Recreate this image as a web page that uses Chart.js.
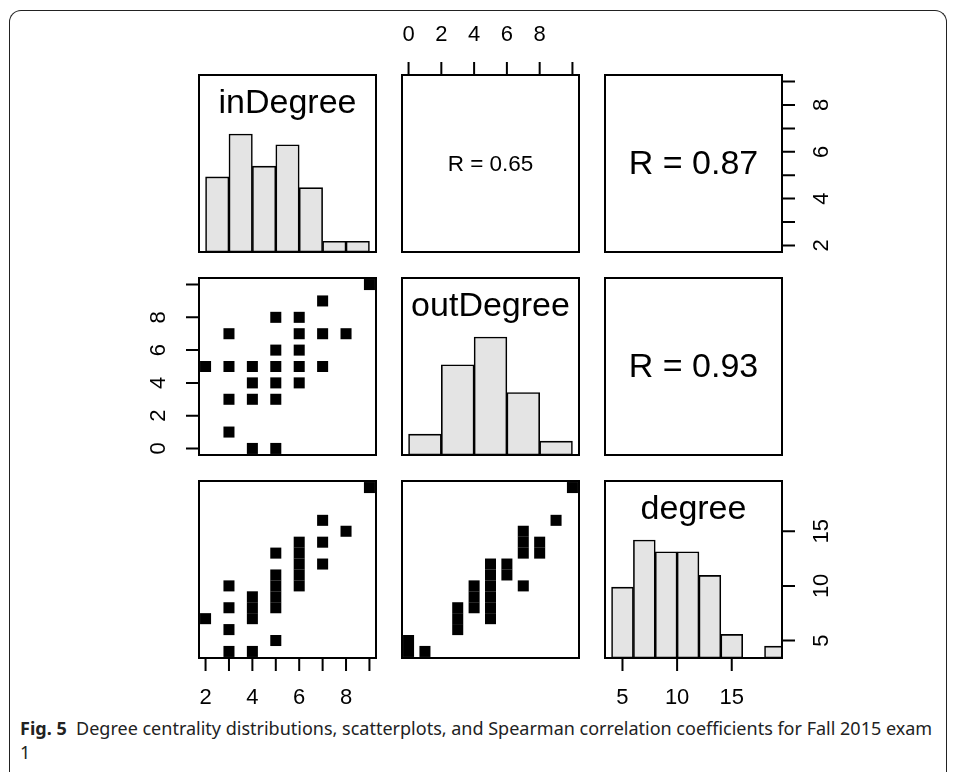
<!DOCTYPE html>
<html>
<head>
<meta charset="utf-8">
<script src="https://cdn.jsdelivr.net/npm/chart.js@4"></script>
<style>
  body { margin: 0; background: #fff; width: 958px; height: 772px; position: relative; overflow: hidden; }
  canvas.panel { position: absolute; }
  #frame { position: absolute; left: 9px; top: 10px; width: 938px; height: 800px; border: 1px solid #222;
           border-bottom: none; border-radius: 12px 12px 0 0; box-sizing: border-box; }
  #caption { position: absolute; left: 20px; top: 716px; font: 18px "Noto Sans", sans-serif; color: #222;
             line-height: 24px; white-space: nowrap; }
</style>
</head>
<body>
<div id="frame"></div>
<div id="caption"><b>Fig. 5</b>&nbsp; Degree centrality distributions, scatterplots, and Spearman correlation coefficients for Fall 2015 exam<br>1</div>
<script>
const inDegree  = [2, 3, 3, 3, 3, 4, 4, 4, 4, 5, 5, 5, 5, 5, 5, 6, 6, 6, 6, 6, 7, 7, 7, 8, 9];
const outDegree = [5, 1, 3, 5, 7, 0, 3, 4, 5, 0, 3, 4, 5, 6, 8, 4, 5, 6, 7, 8, 5, 7, 9, 7, 10];
const degree    = [7, 4, 6, 8, 10, 4, 7, 8, 9, 5, 8, 9, 10, 11, 13, 10, 11, 12, 13, 14, 12, 14, 16, 15, 19];

// histogram bins (edges) and counts
const inBreaks  = [2, 3, 4, 5, 6, 7, 8, 9];
const inCounts  = [7, 11, 8, 10, 6, 1, 1];
const outBreaks = [0, 2, 4, 6, 8, 10];
const outCounts = [3, 13, 17, 9, 2];
const degBreaks = [4, 6, 8, 10, 12, 14, 16, 18, 20];
const degCounts = [6, 10, 9, 9, 7, 2, 0, 1];

// axis ticks and tick labels
const inTicks   = [2, 3, 4, 5, 6, 7, 8, 9];
const inLabels  = [2, 4, 6, 8];
const outTicks  = [0, 2, 4, 6, 8, 10];
const outLabels = [0, 2, 4, 6, 8];
const degTicks  = [5, 10, 15];
const degLabels = [5, 10, 15];

const varNames = ["inDegree", "outDegree", "degree"];
const corrText = ["R = 0.65", "R = 0.87", "R = 0.93"];

// R style ranges: data range stretched by 4%
function range(vals) {
    const lo = Math.min(...vals), hi = Math.max(...vals), d = (hi - lo) * 0.04;
    return { min: lo - d, max: hi + d };
}
const inRange = range(inDegree), outRange = range(outDegree), degRange = range(degree);

const colX = [199, 402, 605];
const rowY = [75, 278, 481];
const SIZE = 177;
const PAD = 60;
const TICK = 13;
const FONT = '"Liberation Sans", Arial, sans-serif';

function deco(cfg) {
    return {
        id: "deco",
        afterDatasetsDraw(chart) {
            const ctx = chart.ctx, a = chart.chartArea;
            ctx.save();
            ctx.strokeStyle = "#000";
            ctx.fillStyle = "#000";
            ctx.lineWidth = 2;
            ctx.strokeRect(a.left, a.top, a.right - a.left, a.bottom - a.top);

            (cfg.axes || []).forEach(ax => {
                const s = chart.scales[ax.scale];
                ctx.beginPath();
                ax.ticks.forEach(v => {
                    const p = s.getPixelForValue(v);
                    if (ax.side === "bottom") { ctx.moveTo(p, a.bottom); ctx.lineTo(p, a.bottom + TICK); }
                    if (ax.side === "top")    { ctx.moveTo(p, a.top);    ctx.lineTo(p, a.top - TICK); }
                    if (ax.side === "left")   { ctx.moveTo(a.left, p);   ctx.lineTo(a.left - TICK, p); }
                    if (ax.side === "right")  { ctx.moveTo(a.right, p);  ctx.lineTo(a.right + TICK, p); }
                });
                ctx.stroke();
                ctx.font = "22px " + FONT;
                ctx.textAlign = "center";
                ctx.textBaseline = "middle";
                ax.labels.forEach(v => {
                    const p = s.getPixelForValue(v);
                    if (ax.side === "bottom") ctx.fillText(String(v), p, a.bottom + 40);
                    else if (ax.side === "top") ctx.fillText(String(v), p, a.top - 40);
                    else {
                        ctx.save();
                        ctx.translate(ax.side === "left" ? a.left - 40 : a.right + 40, p);
                        ctx.rotate(-Math.PI / 2);
                        ctx.fillText(String(v), 0, 0);
                        ctx.restore();
                    }
                });
            });

            if (cfg.title) {
                ctx.font = "34px " + FONT;
                ctx.textAlign = "center";
                ctx.textBaseline = "alphabetic";
                ctx.fillText(cfg.title, (a.left + a.right) / 2, a.top + 38);
            }
            if (cfg.text) {
                ctx.font = cfg.textSize + "px " + FONT;
                ctx.textAlign = "center";
                ctx.textBaseline = "middle";
                ctx.fillText(cfg.text, (a.left + a.right) / 2, (a.top + a.bottom) / 2 + 1);
            }
            ctx.restore();
        }
    };
}

function makePanel(row, col, type, datasets, scales, cfg) {
    const cv = document.createElement("canvas");
    cv.className = "panel";
    cv.width = SIZE + 2 * PAD;
    cv.height = SIZE + 2 * PAD;
    cv.style.left = (colX[col] - PAD) + "px";
    cv.style.top = (rowY[row] - PAD) + "px";
    cv.style.width = cv.width + "px";
    cv.style.height = cv.height + "px";
    document.body.appendChild(cv);

    Object.values(scales).forEach(s => { s.type = "linear"; s.display = false; s.offset = false; });
    return new Chart(cv, {
        type: type,
        data: { datasets: datasets },
        options: {
            responsive: false,
            maintainAspectRatio: false,
            animation: false,
            devicePixelRatio: 1,
            layout: { padding: PAD },
            plugins: { legend: { display: false }, tooltip: { enabled: false } },
            scales: scales
        },
        plugins: [deco(cfg)]
    });
}

function histData(breaks, counts) {
    const top = Math.max(...counts);
    return [{
        data: counts.map((c, i) => ({ x: (breaks[i] + breaks[i + 1]) / 2, y: c / top })),
        backgroundColor: "#e4e4e4",
        borderColor: "#000",
        borderWidth: 1.6,
        borderSkipped: false,
        barPercentage: 1,
        categoryPercentage: 1,
        clip: 0
    }];
}

function binTicks(breaks) {
    return scale => { scale.ticks = breaks.map(v => ({ value: v })); };
}

function scatterData(xs, ys) {
    return [{
        data: xs.map((x, i) => ({ x: x, y: ys[i] })),
        pointStyle: "rect",
        pointRadius: 7.8,
        backgroundColor: "#000",
        borderWidth: 0,
        showLine: false,
        clip: 0
    }];
}

// row 1
makePanel(0, 0, "bar", histData(inBreaks, inCounts),
    { x: { min: inRange.min, max: inRange.max, afterBuildTicks: binTicks(inBreaks) }, y: { min: 0, max: 1.5 } },
    { title: varNames[0] });
makePanel(0, 1, "scatter", [],
    { x: { min: outRange.min, max: outRange.max }, y: { min: inRange.min, max: inRange.max } },
    { text: corrText[0], textSize: 22.5, axes: [{ side: "top", scale: "x", ticks: outTicks, labels: outLabels }] });
makePanel(0, 2, "scatter", [],
    { x: { min: degRange.min, max: degRange.max }, y: { min: inRange.min, max: inRange.max } },
    { text: corrText[1], textSize: 34, axes: [{ side: "right", scale: "y", ticks: inTicks, labels: inLabels }] });

// row 2
makePanel(1, 0, "scatter", scatterData(inDegree, outDegree),
    { x: { min: inRange.min, max: inRange.max }, y: { min: outRange.min, max: outRange.max } },
    { axes: [{ side: "left", scale: "y", ticks: outTicks, labels: outLabels }] });
makePanel(1, 1, "bar", histData(outBreaks, outCounts),
    { x: { min: outRange.min, max: outRange.max, afterBuildTicks: binTicks(outBreaks) }, y: { min: 0, max: 1.5 } },
    { title: varNames[1] });
makePanel(1, 2, "scatter", [],
    { x: { min: degRange.min, max: degRange.max }, y: { min: outRange.min, max: outRange.max } },
    { text: corrText[2], textSize: 34 });

// row 3
makePanel(2, 0, "scatter", scatterData(inDegree, degree),
    { x: { min: inRange.min, max: inRange.max }, y: { min: degRange.min, max: degRange.max } },
    { axes: [{ side: "bottom", scale: "x", ticks: inTicks, labels: inLabels }] });
makePanel(2, 1, "scatter", scatterData(outDegree, degree),
    { x: { min: outRange.min, max: outRange.max }, y: { min: degRange.min, max: degRange.max } },
    {});
makePanel(2, 2, "bar", histData(degBreaks, degCounts),
    { x: { min: degRange.min, max: degRange.max, afterBuildTicks: binTicks(degBreaks) },
      y: { min: 0, max: 1.5 },
      yv: { min: degRange.min, max: degRange.max } },
    { title: varNames[2], axes: [
        { side: "bottom", scale: "x", ticks: degTicks, labels: degLabels },
        { side: "right", scale: "yv", ticks: degTicks, labels: degLabels }
    ] });
</script>
</body>
</html>
